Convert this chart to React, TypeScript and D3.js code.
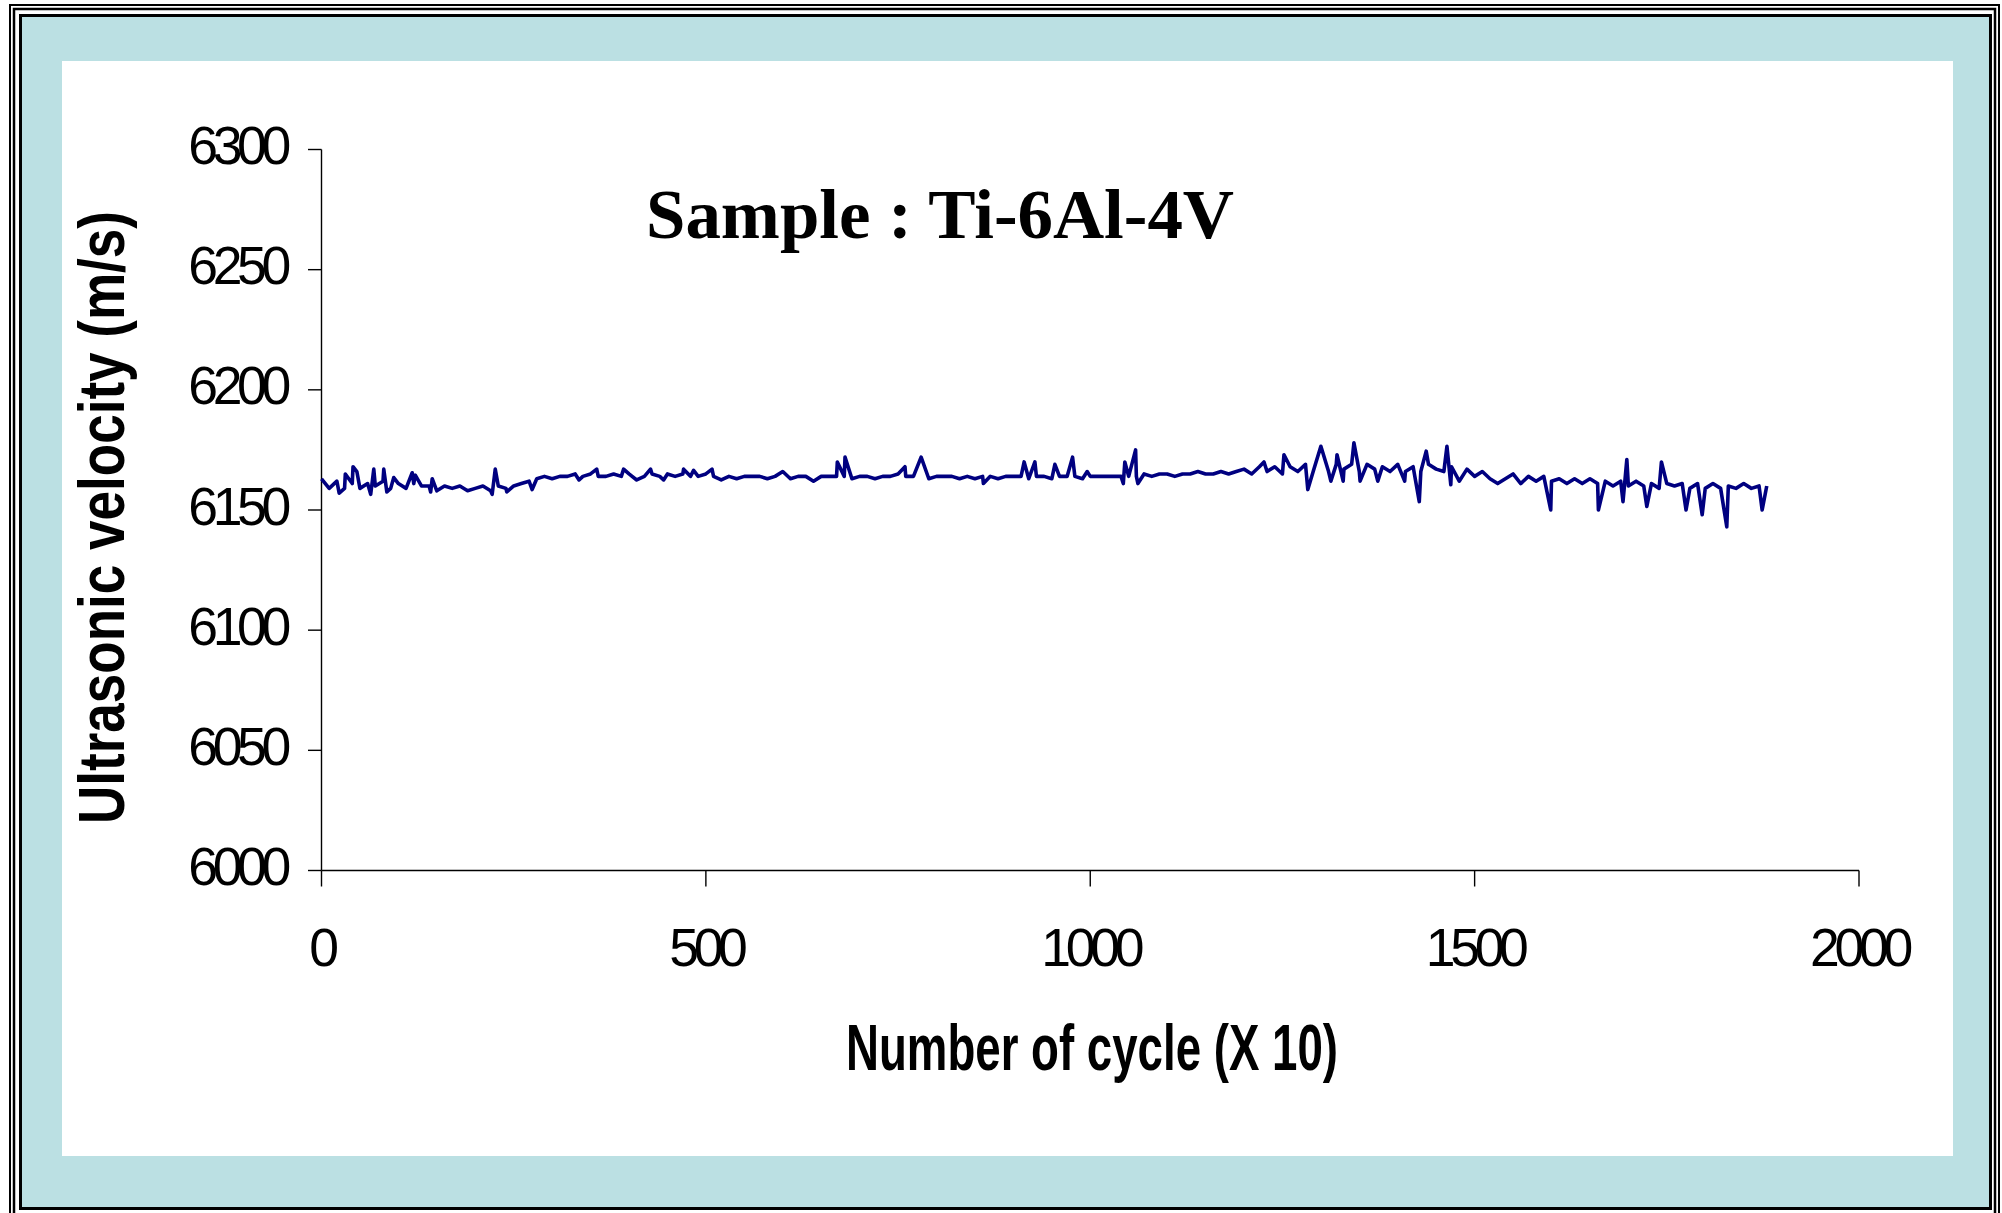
import React from "react";
import * as d3 from "d3";

const WIDTH = 2002;
const HEIGHT = 1213;

const Plot = { left: 321.5, right: 1859, top: 149.5, bottom: 870.5 };

const X_TICKS = [0, 500, 1000, 1500, 2000];
const Y_TICKS = [6000, 6050, 6100, 6150, 6200, 6250, 6300];

const TITLE = "Sample : Ti-6Al-4V";
const X_LABEL = "Number of cycle (X 10)";
const Y_LABEL = "Ultrasonic velocity (m/s)";

// velocity read every 10 cycles (x10), 0 .. 1880
const CYCLE_STEP = 10;
const baseVelocity = [
  6163, 6159, 6162, 6159, 6161, 6159, 6161, 6160, 6162, 6159,
  6161, 6159, 6161, 6160, 6160, 6158, 6160, 6159, 6160, 6158,
  6159, 6160, 6158, 6160, 6159, 6160, 6161, 6162, 6163, 6164,
  6163, 6164, 6164, 6165, 6164, 6165, 6164, 6164, 6165, 6164,
  6165, 6164, 6164, 6165, 6164, 6165, 6164, 6165, 6164, 6164,
  6165, 6164, 6164, 6164, 6163, 6164, 6164, 6164, 6163, 6164,
  6164, 6163, 6164, 6164, 6163, 6164, 6164, 6164, 6164, 6163,
  6164, 6164, 6163, 6164, 6164, 6165, 6164, 6164, 6164, 6163,
  6164, 6164, 6164, 6163, 6164, 6163, 6164, 6164, 6163, 6164,
  6164, 6164, 6163, 6164, 6164, 6163, 6164, 6164, 6164, 6163,
  6164, 6164, 6164, 6164, 6164, 6164, 6164, 6165, 6164, 6165,
  6165, 6164, 6165, 6165, 6166, 6165, 6165, 6166, 6165, 6166,
  6167, 6165, 6168, 6166, 6168, 6165, 6168, 6166, 6169, 6166,
  6169, 6166, 6169, 6167, 6169, 6166, 6169, 6167, 6168, 6166,
  6169, 6166, 6168, 6166, 6169, 6167, 6166, 6168, 6165, 6167,
  6164, 6166, 6163, 6165, 6163, 6165, 6163, 6164, 6162, 6164,
  6162, 6163, 6161, 6163, 6161, 6163, 6161, 6162, 6160, 6162,
  6160, 6162, 6160, 6161, 6159, 6161, 6160, 6161, 6159, 6161,
  6159, 6161, 6159, 6160, 6159, 6161, 6159, 6160, 6160
];

// single-reading spikes and dips
const spikeCycles = [
  23, 31, 41, 46, 64, 68, 81, 85, 94, 118, 122, 142, 144, 222, 226, 241, 274,
  335, 358, 393, 410, 428, 445, 471, 484, 508, 520, 600, 640,
  671, 681, 759, 780, 861, 914, 928, 954, 977, 996, 1043, 1045, 1059, 1062,
  1226, 1252, 1283, 1300, 1313, 1321, 1329, 1343, 1351, 1374, 1409, 1428,
  1437, 1464, 1469, 1480, 1530, 1560, 1599, 1661, 1693, 1698, 1724, 1743,
  1775, 1796, 1828, 1874
];
const spikeVelocity = [
  6157, 6165, 6168, 6166, 6156.5, 6167, 6167, 6157.5, 6163.5, 6165.5, 6164.5, 6157.5, 6163, 6156.5, 6167, 6157.5, 6158.5,
  6162.5, 6167, 6167, 6162.5, 6167, 6162.5, 6167, 6166.5, 6167, 6162.5, 6166, 6162,
  6170, 6172, 6168, 6172, 6161, 6170, 6170, 6169, 6172, 6166, 6161, 6170, 6175, 6161,
  6170, 6173, 6158.5, 6176.5, 6162, 6173, 6162, 6178, 6162, 6162, 6162, 6153.5,
  6174.5, 6176.5, 6160.5, 6162, 6161, 6161, 6150, 6150, 6153.5, 6171, 6151.5, 6170,
  6150, 6148, 6143, 6150
];

const readings = new Map<number, number>();
baseVelocity.forEach((v, i) => readings.set(i * CYCLE_STEP, v));
spikeCycles.forEach((c, i) => readings.set(c, spikeVelocity[i]));
const series = Array.from(readings.entries()).sort((a, b) => a[0] - b[0]);

const xScale = d3.scaleLinear().domain([0, 2000]).range([Plot.left, Plot.right]);
const yScale = d3.scaleLinear().domain([6000, 6300]).range([Plot.bottom, Plot.top]);

const lineGen = d3
  .line<[number, number]>()
  .x((d) => xScale(d[0]))
  .y((d) => yScale(d[1]));

const SANS = "'Liberation Sans', Arial, sans-serif";
const SERIF = "'Liberation Serif', 'Times New Roman', serif";

const App = () => {
  return (
    <svg
      width={WIDTH}
      height={HEIGHT}
      style={{ position: "absolute", left: 0, top: 0 }}
    >
      <rect x={0} y={0} width={WIDTH} height={HEIGHT} fill="#fff" />
      {/* frame */}
      <rect x={10} y={5} width={1989} height={1220} fill="none" stroke="#000" strokeWidth={2} />
      <rect x={14} y={9} width={1981} height={1212} fill="none" stroke="#000" strokeWidth={2.5} />
      <rect x={20.5} y={15.5} width={1970} height={1193} fill="#BBE0E3" stroke="#000" strokeWidth={3} />
      <rect x={62} y={61} width={1891} height={1095} fill="#fff" />

      {/* axes */}
      <line x1={Plot.left} y1={Plot.top} x2={Plot.left} y2={Plot.bottom} stroke="#000" strokeWidth={1.4} />
      <line x1={Plot.left} y1={Plot.bottom} x2={Plot.right} y2={Plot.bottom} stroke="#000" strokeWidth={1.4} />
      {Y_TICKS.map((t) => (
        <g key={t} transform={`translate(0, ${yScale(t)})`}>
          <line x1={308} x2={Plot.left} y1={0} y2={0} stroke="#000" strokeWidth={1.4} />
          <text
            x={286}
            y={14.5}
            textAnchor="end"
            style={{ fontFamily: SANS, fontSize: 53.5, letterSpacing: -5.3 }}
          >
            {t}
          </text>
        </g>
      ))}
      {X_TICKS.map((t) => (
        <g key={t} transform={`translate(${xScale(t)}, 0)`}>
          <line x1={0} x2={0} y1={Plot.bottom} y2={Plot.bottom + 16} stroke="#000" strokeWidth={1.4} />
          <text
            x={0}
            y={966}
            textAnchor="middle"
            style={{ fontFamily: SANS, fontSize: 53.5, letterSpacing: -5.3 }}
          >
            {t}
          </text>
        </g>
      ))}

      {/* data */}
      <path
        d={lineGen(series as [number, number][]) || ""}
        fill="none"
        stroke="#000080"
        strokeWidth={3.6}
        strokeLinejoin="round"
      />

      {/* labels */}
      <text
        x={646}
        y={238}
        textLength={588}
        lengthAdjust="spacingAndGlyphs"
        style={{ fontFamily: SERIF, fontWeight: "bold", fontSize: 70 }}
      >
        {TITLE}
      </text>
      <text
        x={1092}
        y={1070}
        textAnchor="middle"
        textLength={492}
        lengthAdjust="spacingAndGlyphs"
        style={{ fontFamily: SANS, fontWeight: "bold", fontSize: 64 }}
      >
        {X_LABEL}
      </text>
      <text
        transform="translate(124, 517.5) rotate(-90)"
        textAnchor="middle"
        textLength={613}
        lengthAdjust="spacingAndGlyphs"
        style={{ fontFamily: SANS, fontWeight: "bold", fontSize: 64 }}
      >
        {Y_LABEL}
      </text>
    </svg>
  );
};

export default App;
